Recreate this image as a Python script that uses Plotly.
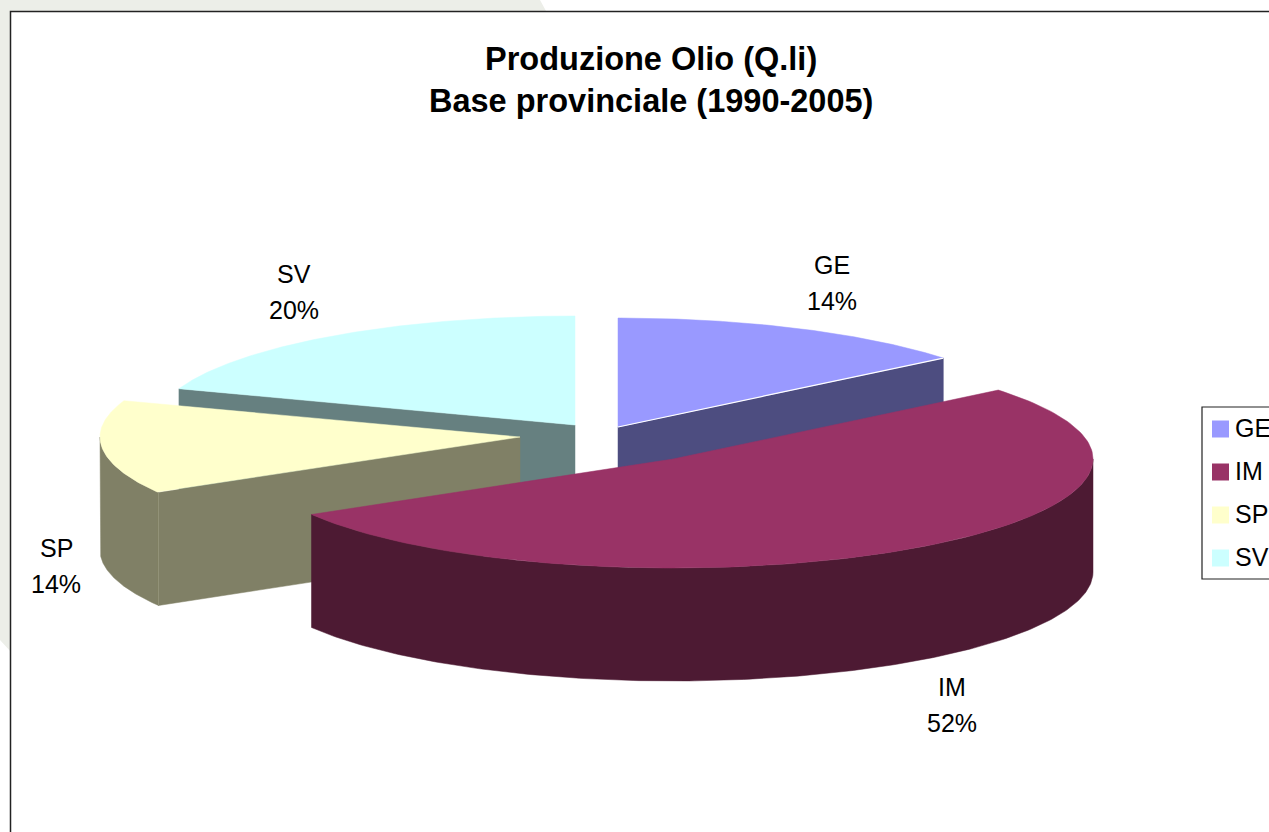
import numpy as np
import plotly.graph_objects as go

# --- data ---
categories = ["GE", "IM", "SP", "SV"]
shares = [14.1, 52.4, 13.9, 19.6]
top_colors = ["#9999FF", "#993366", "#FFFFCC", "#CCFFFF"]
wall_colors = ["#4D4D80", "#4D1A33", "#808066", "#668080"]
title_lines = ["Produzione Olio (Q.li)", "Base provinciale (1990-2005)"]

# --- layout of the tilted exploded pie (screen units) ---
W, H = 1269, 832
RX, RY, DEPTH = 420, 109, 113
centers = {"GE": (618, 427), "IM": (673, 459), "SP": (520, 437), "SV": (575, 425)}
label_pos = {"GE": (832, 265), "IM": (952, 687), "SP": (56, 548), "SV": (294, 274)}
LABEL_GAP = 36
FONT = "Liberation Sans, Arial, sans-serif"

fracs = np.array(shares) / sum(shares)
ends = np.cumsum(fracs) * 2 * np.pi
starts = ends - fracs * 2 * np.pi
angles = {c: (s, e) for c, s, e in zip(categories, starts, ends)}
colors = {c: (t, w) for c, t, w in zip(categories, top_colors, wall_colors)}


def rim(c, th, dy=0):
    cx, cy = centers[c]
    return cx + RX * np.sin(th), cy - RY * np.cos(th) + dy


def poly(fig, x, y, color):
    fig.add_trace(go.Scatter(x=list(x), y=list(y), mode="lines", fill="toself",
                             fillcolor=color, line=dict(color=color, width=0.5),
                             hoverinfo="skip", showlegend=False))


def edge(fig, x, y, color, width=1):
    fig.add_trace(go.Scatter(x=list(x), y=list(y), mode="lines",
                             line=dict(color=color, width=width),
                             hoverinfo="skip", showlegend=False))


def top_face(fig, c):
    s, e = angles[c]
    th = np.linspace(s, e, 160)
    x, y = rim(c, th)
    cx, cy = centers[c]
    poly(fig, np.r_[cx, x, cx], np.r_[cy, y, cy], colors[c][0])


def radial_wall(fig, c, th):
    cx, cy = centers[c]
    rx, ry = rim(c, th)
    poly(fig, [cx, rx, rx, cx, cx], [cy, ry, ry + DEPTH, cy + DEPTH, cy], colors[c][1])


def outer_wall(fig, c):
    s, e = angles[c]
    lo, hi = max(s, np.pi / 2), min(e, 3 * np.pi / 2)
    if lo >= hi:
        return
    th = np.linspace(lo, hi, 200)
    x, y = rim(c, th)
    poly(fig, np.r_[x, x[::-1], x[0]], np.r_[y, y[::-1] + DEPTH, y[0]], colors[c][1])


fig = go.Figure()

# back to front painting
radial_wall(fig, "SV", angles["SV"][0])
top_face(fig, "SV")
radial_wall(fig, "GE", angles["GE"][1])
top_face(fig, "GE")
gx, gy = rim("GE", angles["GE"][1])
edge(fig, [centers["GE"][0], gx], [centers["GE"][1], gy], "#FFFFFF", 1.2)
outer_wall(fig, "SP")
radial_wall(fig, "SP", angles["SP"][0])
px_, py_ = rim("SP", angles["SP"][0])
edge(fig, [px_, px_], [py_, py_ + DEPTH], "#929279", 1)
top_face(fig, "SP")
outer_wall(fig, "IM")
top_face(fig, "IM")

# data labels
annotations = []
for c, f in zip(categories, fracs):
    lx, ly = label_pos[c]
    for i, t in enumerate([c, f"{round(f * 100)}%"]):
        annotations.append(dict(x=lx, y=ly + i * LABEL_GAP, text=t, showarrow=False,
                                xanchor="center", yanchor="middle",
                                font=dict(family=FONT, size=25, color="#000000")))

# title
for t, ty in zip(title_lines, (59, 101)):
    annotations.append(dict(x=651, y=ty, text=f"<b>{t}</b>", showarrow=False,
                            xanchor="center", yanchor="middle",
                            font=dict(family=FONT, size=32.5, color="#000000")))

# legend
leg_left, leg_top, leg_bottom = 1202, 407, 579
shapes = [
    dict(type="path", layer="below", line=dict(width=0), fillcolor="#ECEEE8",
         path="M0,0 L540,0 L546,11 L11,11 L11,640 L11,652 L0,640 Z"),
    dict(type="rect", layer="below", x0=10.5, y0=11.5, x1=W + 5, y1=H + 5,
         line=dict(color="#222222", width=1.5), fillcolor="#FFFFFF"),
    dict(type="rect", layer="below", x0=leg_left, y0=leg_top, x1=W + 5, y1=leg_bottom,
         line=dict(color="#222222", width=1.2), fillcolor="#FFFFFF"),
]
for i, (c, col) in enumerate(zip(categories, top_colors)):
    yc = 429 + i * 43
    shapes.append(dict(type="rect", layer="below", x0=1212, x1=1229, y0=yc - 8.5, y1=yc + 8.5,
                       line=dict(width=0), fillcolor=col))
    annotations.append(dict(x=1233, y=yc - 1, text=c, showarrow=False, xanchor="left",
                            yanchor="middle",
                            font=dict(family=FONT, size=25, color="#000000")))

fig.update_layout(
    width=W, height=H, margin=dict(l=0, r=0, t=0, b=0),
    paper_bgcolor="#FFFFFF", plot_bgcolor="rgba(0,0,0,0)",
    showlegend=False, annotations=annotations, shapes=shapes,
    xaxis=dict(range=[0, W], visible=False, fixedrange=True),
    yaxis=dict(range=[H, 0], visible=False, fixedrange=True),
)

fig.write_html("out.html", config={"displayModeBar": False},
               post_script="document.body.style.margin='0';document.body.style.overflow='hidden';")
